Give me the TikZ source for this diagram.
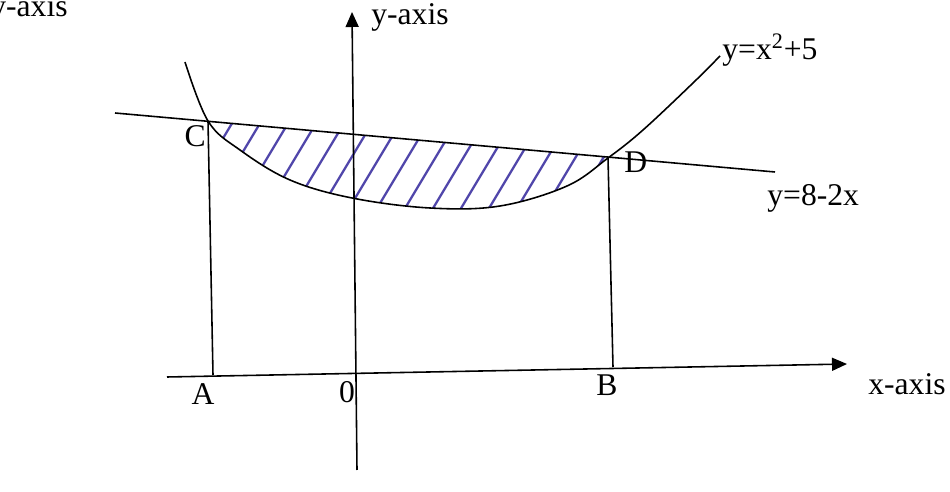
\documentclass[tikz,border=0pt]{standalone}
\usepackage{fontspec}
\setmainfont{Liberation Serif}
\usetikzlibrary{arrows.meta}
\definecolor{hatchblue}{RGB}{80,70,170}

\begin{document}
\begin{tikzpicture}[x=0.02cm, y=-0.02cm,
    every node/.style={font=\fontsize{18}{21}\selectfont, inner sep=0pt},
    axis/.style={line width=0.9pt, -{Triangle[length=0.3cm, width=0.26cm]}},
    plain/.style={line width=0.9pt},
    hatch/.style={line width=1.3pt, draw=hatchblue}]

        % Page size of the scan
        \useasboundingbox (0,0) rectangle (950,492);

        % Points where the graphs meet, and their feet on the x-axis
        \coordinate (C) at (208,121);
        \coordinate (D) at (608,158);
        \coordinate (A) at (213,375);
        \coordinate (B) at (613,367);

        % Ends of the axes and of the straight line
        \coordinate (xstart) at (167,377);
        \coordinate (xend) at (847,364);
        \coordinate (ystart) at (357,470);
        \coordinate (yend) at (352,12);
        \coordinate (lstart) at (115,113);
        \coordinate (lend) at (775,172);

        % Hatching between the line and the parabola
        \begin{scope}
          \clip (lstart) -- (lend) -- (780,300) -- (110,300) -- cycle;
          \clip plot[smooth, tension=0.6] coordinates {(185,62) (208,121) (240,150) (290,180) (352,198) (430,208) (500,206) (567,186) (608,158) (643,130) (693,83) (720,56)}
            -- (720,0) -- (185,0) -- cycle;
          \foreach \i in {0,...,14} {
            \draw[hatch] ({168+\i*28},230) -- ({246+\i*28},100);
          }
        \end{scope}

        % Axes
        \draw[axis] (xstart) -- (xend);
        \draw[axis] (ystart) -- (yend);

        % The line y=8-2x and the parabola y=x^2+5
        \draw[plain] (lstart) -- (lend);
        \draw[plain] plot[smooth, tension=0.6] coordinates {(185,62) (208,121) (240,150) (290,180) (352,198) (430,208) (500,206) (567,186) (608,158) (643,130) (693,83) (720,56)};

        % Verticals down to the x-axis
        \draw[plain] (C) -- (A);
        \draw[plain] (D) -- (B);

        % Labels
        \node[anchor=base east] (yaxisleft) at (68,17) {y-axis};
        \node[anchor=base west] (yaxis) at (371,25) {y-axis};
        \node[anchor=base west] (xaxis) at (868,395) {x-axis};
        \node[anchor=base west] (parab) at (722,60) {y=x\textsuperscript{2}+5};
        \node[anchor=base west] (linelab) at (767,206) {y=8-2x};
        \node[anchor=base east] (labC) at (206,147) {C};
        \node[anchor=base west] (labD) at (624,173) {D};
        \node[anchor=base] (labA) at (203,405) {A};
        \node[anchor=base] (labO) at (347,403) {0};
        \node[anchor=base] (labB) at (607,396) {B};

      \end{tikzpicture}
\end{document}
